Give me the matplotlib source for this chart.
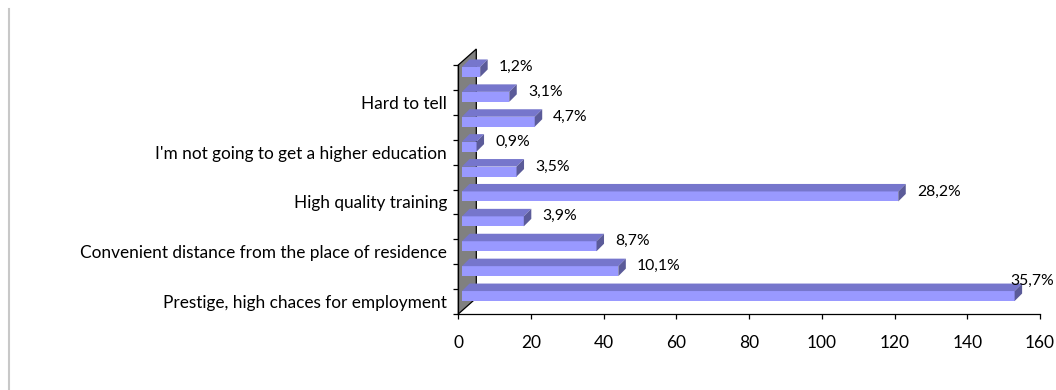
import matplotlib
matplotlib.use("Agg")
import matplotlib.pyplot as plt
from matplotlib.patches import Polygon
from matplotlib.lines import Line2D
from matplotlib.ticker import FixedLocator
from matplotlib.transforms import blended_transform_factory

plt.rcParams['font.family'] = ['Lato', 'DejaVu Sans']

# Responses, bottom to top
categories = [
    "Prestige, high chaces for employment", "",
    "Convenient distance from the place of residence", "",
    "High quality training", "",
    "I'm not going to get a higher education", "",
    "Hard to tell", "",
]
counts = [152, 43, 37, 17, 120, 15, 4, 20, 13, 5]
pct_labels = ["35,7%", "10,1%", "8,7%", "3,9%", "28,2%",
              "3,5%", "0,9%", "4,7%", "3,1%", "1,2%"]
x_ticks = [0, 20, 40, 60, 80, 100, 120, 140, 160]

W, H, DPI = 1056, 390, 100
fig = plt.figure(figsize=(W / DPI, H / DPI), dpi=DPI)
fig.patch.set_facecolor("white")

# plot area in pixels
x0_px, x1_px, y_bot_px, y_top_px = 458.3, 1040.0, 314.0, 65.0
ax = fig.add_axes([x0_px / W, 1 - y_bot_px / H,
                   (x1_px - x0_px) / W, (y_bot_px - y_top_px) / H])
ax.set_xlim(0, 160)
ax.set_ylim(-0.5, 9.5)
ax.set_facecolor("none")

px_x = 160 / (x1_px - x0_px)      # value units per pixel
px_y = 10 / (y_bot_px - y_top_px)  # category units per pixel

# oblique depth of the side wall and of each bar
WX, WY = 18 * px_x, 16 * px_y
FX, FY = 3.7 * px_x, 5.5 * px_y
DX, DY = 7.5 * px_x, 7.5 * px_y
HALF = 5 * px_y

front_c = "#9999FF"
top_c = "#7676CC"
side_c = "#5B5B99"

LABEL_FS = 11.3
edge_tr = blended_transform_factory(fig.transFigure, ax.transData)

# side wall
wall = Polygon([(0, -0.5), (0, 9.5), (WX, 9.5 + WY), (WX, -0.5 + WY)],
               closed=True, facecolor="#808080", edgecolor="black",
               linewidth=0.9, clip_on=False, zorder=1)
ax.add_patch(wall)

for i, (v, lab) in enumerate(zip(counts, pct_labels)):
    xl, xr = FX, v + FX
    yb, yt = i + FY - HALF, i + FY + HALF
    front = Polygon([(xl, yb), (xr, yb), (xr, yt), (xl, yt)],
                    facecolor=front_c, edgecolor="none", clip_on=False, zorder=3)
    top = Polygon([(xl, yt), (xr, yt), (xr + DX, yt + DY), (xl + DX, yt + DY)],
                  facecolor=top_c, edgecolor="none", clip_on=False, zorder=3)
    side = Polygon([(xr, yb), (xr + DX, yb + DY), (xr + DX, yt + DY), (xr, yt)],
                   facecolor=side_c, edgecolor="none", clip_on=False, zorder=3)
    for p in (front, top, side):
        ax.add_patch(p)
    end_px = (xr + DX) / px_x + x0_px + 10 + 44
    if end_px > W:
        # no room on the right: the label sits above the bar end,
        # pushed against the right edge of the chart
        ax.text(1 - 2 / W, yt + DY + 3 * px_y, lab, ha="right", va="center",
                fontsize=LABEL_FS, color="black", clip_on=False, zorder=4,
                transform=edge_tr)
    else:
        ax.annotate(lab, xy=(xr + DX, yt), xytext=(8, 0),
                    textcoords="offset points", ha="left", va="center",
                    fontsize=LABEL_FS, color="black", annotation_clip=False,
                    zorder=4)

for s in ("top", "right"):
    ax.spines[s].set_visible(False)
for s in ("left", "bottom"):
    ax.spines[s].set_linewidth(0.9)
    ax.spines[s].set_color("black")
    ax.spines[s].set_zorder(5)

ax.set_xticks(x_ticks)
ax.set_xticklabels([str(t) for t in x_ticks])
ax.tick_params(axis="x", direction="out", length=3.8, width=0.9,
               labelsize=12.5, pad=11)

ax.set_yticks(range(len(categories)))
ax.set_yticklabels(categories)
ax.yaxis.set_minor_locator(FixedLocator([k - 0.5 for k in range(11)]))
ax.tick_params(axis="y", which="major", length=0, labelsize=12.4, pad=8)
ax.tick_params(axis="y", which="minor", direction="out", length=3.8, width=0.9)

# chart-area border on the left
fig.add_artist(Line2D([9 / W, 9 / W], [0, 1 - 9 / H], color="#C8C8C8",
                      linewidth=1.5, transform=fig.transFigure))

fig.savefig("out.png", dpi=DPI)
